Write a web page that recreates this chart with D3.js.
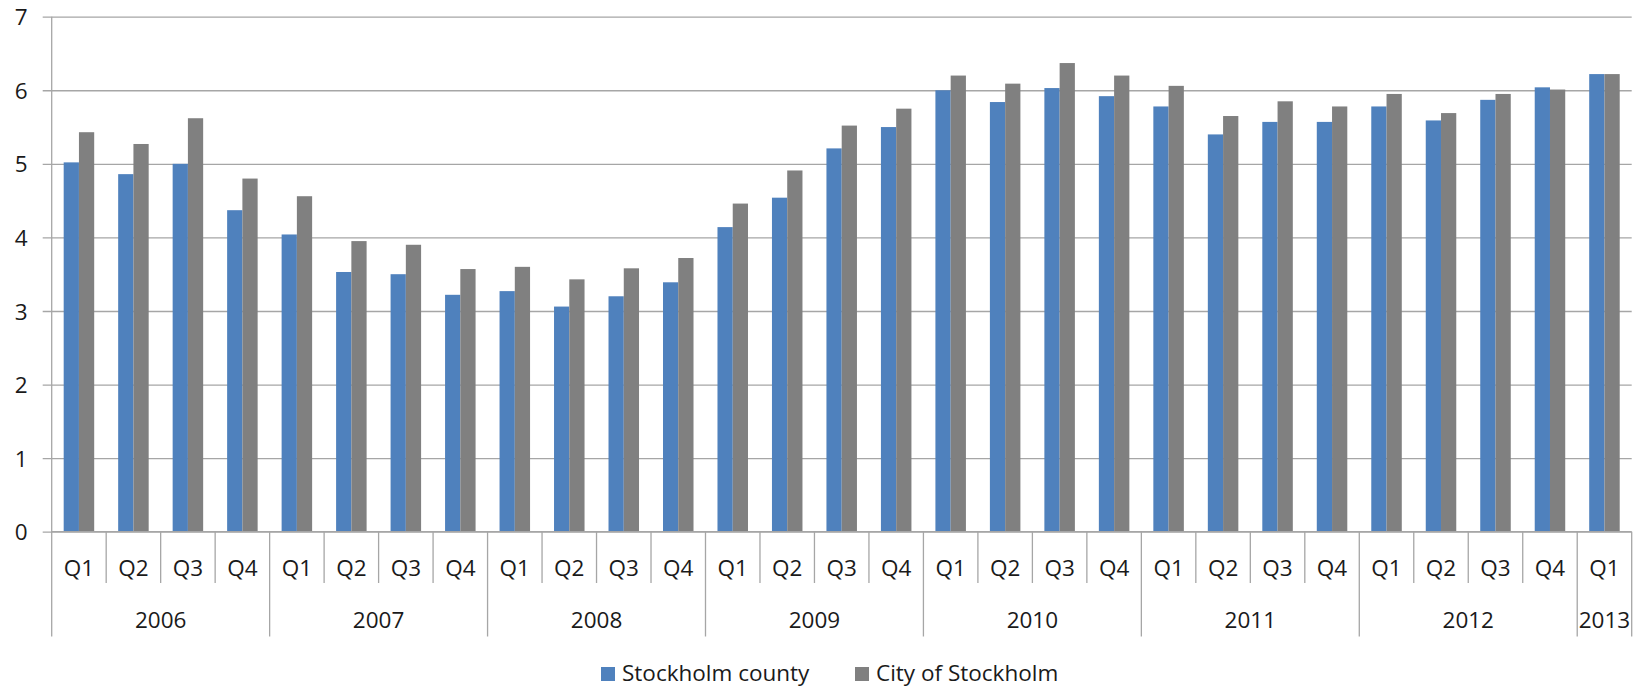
<!DOCTYPE html>
<html>
<head>
<meta charset="utf-8">
<script src="https://cdn.jsdelivr.net/npm/d3@7"></script>
<style>
  html, body { margin: 0; padding: 0; background: #fff; }
  svg { display: block; }
  text { font-family: "Open Sans", "Noto Sans", sans-serif; fill: #1a1a1a; }
</style>
</head>
<body>
<svg id="chart" width="1644" height="688"></svg>
<script>
const years = ["2006","2007","2008","2009","2010","2011","2012","2013"];
const quarters = ["Q1","Q2","Q3","Q4"];
const yearQuarterCounts = [4,4,4,4,4,4,4,1];
const seriesNames = ["Stockholm county","City of Stockholm"];
const countyValues = [5.02,4.86,5.00,4.37, 4.04,3.53,3.50,3.22, 3.27,3.06,3.20,3.39, 4.14,4.54,5.21,5.50, 6.00,5.84,6.03,5.92, 5.78,5.40,5.57,5.57, 5.78,5.59,5.87,6.04, 6.22];
const cityValues   = [5.43,5.27,5.62,4.80, 4.56,3.95,3.90,3.57, 3.60,3.43,3.58,3.72, 4.46,4.91,5.52,5.75, 6.20,6.09,6.37,6.20, 6.06,5.65,5.85,5.78, 5.95,5.69,5.95,6.01, 6.22];
const yTicks = [0,1,2,3,4,5,6,7];

(function () {
const categories = [];
years.forEach((yr, yi) => {
  for (let q = 0; q < yearQuarterCounts[yi]; q++) categories.push({year: yr, quarter: quarters[q], id: yr + "-" + quarters[q]});
});
const data = categories.map((c, i) => ({...c, values: [countyValues[i], cityValues[i]]}));

const colors = ["#4f81bd", "#808080"];
const pl = 51.7, pr = 1631.7, pt = 16.7, pb = 531.7;
const qLineBottom = 583, yLineBottom = 636.5;
const gridColor = "#a6a6a6";
const fs = "22.5px";

const svg = d3.select("#chart");
const x = d3.scaleBand().domain(categories.map(d => d.id)).range([pl, pr]).padding(0);
const bw = x.bandwidth();
const groupW = bw * 0.56;
const x1 = d3.scaleBand().domain([0,1]).range([(bw - groupW)/2, (bw + groupW)/2]).padding(0);
const y = d3.scaleLinear().domain([0, 7]).range([pb, pt]);

const gy = svg.append("g").attr("transform", `translate(${pr},0)`)
  .call(d3.axisLeft(y).tickValues(yTicks).tickSize(pr - pl + 9).tickPadding(15).tickFormat(d3.format("d")));
gy.select(".domain").remove();
gy.selectAll(".tick line").attr("stroke", gridColor).attr("stroke-width", 1.3);
gy.selectAll(".tick text").style("font-size", fs).attr("fill", "#1a1a1a").attr("dy", "0.36em");

const groups = svg.append("g").selectAll("g").data(data).join("g")
  .attr("transform", d => `translate(${x(d.id)},0)`);
groups.selectAll("rect").data(d => d.values.map((v, i) => ({v, i}))).join("rect")
  .attr("x", d => x1(d.i))
  .attr("width", x1.bandwidth())
  .attr("y", d => y(d.v))
  .attr("height", d => y(0) - y(d.v))
  .attr("fill", d => colors[d.i]);

svg.append("line").attr("x1", pl).attr("x2", pl).attr("y1", pt).attr("y2", yLineBottom)
  .attr("stroke", gridColor).attr("stroke-width", 1.3);
svg.append("line").attr("x1", pl).attr("x2", pr).attr("y1", pb).attr("y2", pb)
  .attr("stroke", gridColor).attr("stroke-width", 1.3);

const ax = svg.append("g");
categories.forEach((c, i) => {
  const xs = x(c.id);
  if (i > 0) {
    const isYearStart = c.quarter === "Q1";
    ax.append("line").attr("x1", xs).attr("x2", xs).attr("y1", pb)
      .attr("y2", isYearStart ? yLineBottom : qLineBottom)
      .attr("stroke", gridColor).attr("stroke-width", 1.3);
  }
  ax.append("text").attr("x", xs + bw/2).attr("y", 576).attr("text-anchor", "middle")
    .style("font-size", fs).text(c.quarter);
});
ax.append("line").attr("x1", pr).attr("x2", pr).attr("y1", pb).attr("y2", yLineBottom)
  .attr("stroke", gridColor).attr("stroke-width", 1.3);

let start = 0;
years.forEach((yr, yi) => {
  const n = yearQuarterCounts[yi];
  const x0 = x(categories[start].id);
  const xe = x(categories[start + n - 1].id) + bw;
  ax.append("text").attr("x", (x0 + xe)/2).attr("y", 628).attr("text-anchor", "middle")
    .style("font-size", fs).text(yr);
  start += n;
});

const legendX = [601, 855];
const lg = svg.append("g");
seriesNames.forEach((name, i) => {
  lg.append("rect").attr("x", legendX[i]).attr("y", 667).attr("width", 14).attr("height", 14).attr("fill", colors[i]);
  lg.append("text").attr("x", legendX[i] + 21).attr("y", 680.5).style("font-size", fs).text(name);
});
})();
</script>
</body>
</html>
